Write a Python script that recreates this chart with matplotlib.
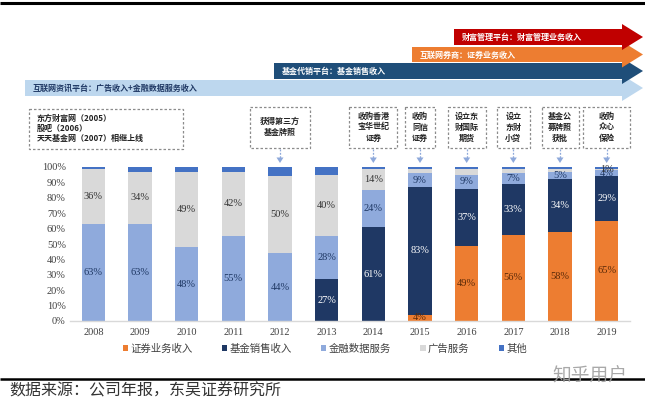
import matplotlib
matplotlib.use("Agg")
import matplotlib.pyplot as plt
import numpy as np
from matplotlib.patches import Polygon, Rectangle, Patch

# ---------------- data ----------------
years = ["2008", "2009", "2010", "2011", "2012", "2013", "2014", "2015", "2016", "2017", "2018", "2019"]
securities = [0, 0, 0, 0, 0, 0, 0, 4, 49, 56, 58, 65]      # 证券业务收入
fund_sales = [0, 0, 0, 0, 0, 27, 61, 83, 37, 33, 34, 29]   # 基金销售收入
fin_data = [63, 63, 48, 55, 44, 28, 24, 9, 9, 7, 5, 4]     # 金融数据服务
advert = [36, 34, 49, 42, 50, 40, 14, 3, 4, 3, 2, 1]       # 广告服务
others = [1, 3, 3, 3, 6, 5, 1, 1, 1, 1, 1, 1]              # 其他
series_names = ["证券业务收入", "基金销售收入", "金融数据服务", "广告服务", "其他"]
ytick_vals = list(range(0, 101, 10))

# labels shown in the reference
show_sec = [v >= 4 for v in securities]
show_fund = [v >= 4 for v in fund_sales]
show_fin = [True] * len(years)
show_ad = [v >= 10 for v in advert]
show_ad[-1] = True

events = [
    ("2012", ["获得第三方", "基金牌照"]),
    ("2014", ["收购香港", "宝华世纪", "证券"]),
    ("2015", ["收购", "同信", "证券"]),
    ("2016", ["设立东", "财国际", "期货"]),
    ("2017", ["设立", "东财", "小贷"]),
    ("2018", ["基金公", "募牌照", "获批"]),
    ("2019", ["收购", "众心", "保险"]),
]
event_box_w = [60, 48, 30, 38, 33, 37, 47]
early_lines = ["东方财富网（2005）", "股吧（2006）", "天天基金网（2007）相继上线"]

stages = [
    ("互联网资讯平台：广告收入+金融数据服务收入", 25, 80, 96, "#BDD7EE", "#1F3864"),
    ("基金代销平台：基金销售收入", 274, 63, 79, "#1F4E79", "white"),
    ("互联网券商：证券业务收入", 412, 47, 62, "#ED7D31", "white"),
    ("财富管理平台：财富管理业务收入", 454, 29, 45, "#C00000", "white"),
]

# ---------------- style ----------------
W, H = 645, 400
CJK = ["Noto Sans CJK SC", "DejaVu Sans"]
SERIF = ["Liberation Serif", "DejaVu Serif"]
plt.rcParams["font.family"] = CJK

c_sec, c_fund, c_fin, c_ad, c_oth = "#ED7D31", "#1F3864", "#8FAADC", "#D9D9D9", "#4472C4"

fig = plt.figure(figsize=(W / 100, H / 100), dpi=100)
fig.patch.set_facecolor("white")

# main axes
ax = fig.add_axes([70 / W, 1 - 321 / H, 560 / W, 154 / H])
x = np.arange(len(years))
bw = 0.5
b0 = np.zeros(len(years))
stack = [securities, fund_sales, fin_data, advert, others]
colors = [c_sec, c_fund, c_fin, c_ad, c_oth]
label_colors = ["#5B2A08", "white", "#1F3864", "#333333", None]
shows = [show_sec, show_fund, show_fin, show_ad, [False] * len(years)]
bottom = b0.copy()
for vals, col, lc, sh, name in zip(stack, colors, label_colors, shows, series_names):
    vals = np.array(vals, dtype=float)
    ax.bar(x, vals, bw, bottom=bottom, color=col, edgecolor="none", label=name, zorder=2)
    for i, v in enumerate(vals):
        if sh[i] and v > 0:
            ax.text(x[i], bottom[i] + v / 2, f"{int(v)}%", ha="center", va="center",
                    fontsize=7.5, color=lc, family=SERIF, zorder=3)
    bottom += vals

ax.set_xlim(-0.5, len(years) - 0.5)
ax.set_ylim(0, 100)
ax.set_xticks(x)
ax.set_xticklabels(years, family=SERIF, fontsize=7.5, color="#404040")
ax.set_yticks(ytick_vals)
ax.set_yticklabels([f"{v}%" for v in ytick_vals], family=SERIF, fontsize=7.5, color="#404040")
ax.tick_params(axis="both", length=0)
ax.tick_params(axis="x", pad=5)
ax.tick_params(axis="y", pad=3)
for s in ["top", "right", "left"]:
    ax.spines[s].set_visible(False)
ax.spines["bottom"].set_color("#D9D9D9")
ax.spines["bottom"].set_linewidth(1.0)

handles = [Patch(facecolor=c, edgecolor="none") for c in colors]
leg = ax.legend(handles, series_names, loc="center", ncol=5, frameon=False,
                bbox_to_anchor=(325 / W, 1 - 349 / H), bbox_transform=fig.transFigure,
                fontsize=7.5, handlelength=0.5, handleheight=0.5, handletextpad=0.25,
                columnspacing=2.8, borderpad=0)
for t in leg.get_texts():
    t.set_color("#404040")

# overlay axes in pixel coordinates (decorations)
ov = fig.add_axes([0, 0, 1, 1], zorder=5)
ov.set_xlim(0, W)
ov.set_ylim(H, 0)
ov.axis("off")
ov.patch.set_alpha(0)

# top and bottom rules
ov.plot([0, W], [3, 3], color="black", lw=2.2, solid_capstyle="butt")
ov.plot([0, W], [378.5, 378.5], color="black", lw=1.8, solid_capstyle="butt")

# stage arrows
tip_x, head_x, head_half = 643, 622, 13
for text, xs, yt, yb, col, tc in stages:
    yc = (yt + yb) / 2
    pts = [(xs, yt), (head_x, yt), (head_x, yc - head_half), (tip_x, yc),
           (head_x, yc + head_half), (head_x, yb), (xs, yb)]
    ov.add_patch(Polygon(pts, closed=True, facecolor=col, edgecolor="none"))
    ov.text(xs + 8, yc + 0.5, text, ha="left", va="center", fontsize=5.8,
            fontweight="bold", color=tc)

# early box
box_kw = dict(fill=True, facecolor="white", edgecolor="#8C8C8C", lw=0.9, linestyle=(0, (2, 1.6)))
ov.add_patch(Rectangle((29, 109), 154, 40, **box_kw))
for k, line in enumerate(early_lines):
    ov.text(37, 118 + 10 * k, line, ha="left", va="center", fontsize=5.8,
            fontweight="bold", color="#222222")

# event boxes with arrows to bars
fig.canvas.draw()
for (yr, lines), bwid in zip(events, event_box_w):
    i = years.index(yr)
    xc_disp = ax.transData.transform((i, 0))[0]
    xc = xc_disp  # figure pixels (dpi 100 -> 1 px per unit)
    ov.add_patch(Rectangle((xc - bwid / 2, 107), bwid, 41, **box_kw))
    n = len(lines)
    y0 = 127 - (n - 1) * 11 / 2
    for k, line in enumerate(lines):
        ov.text(xc, y0 + 11 * k, line, ha="center", va="center", fontsize=5.8,
                fontweight="bold", color="#222222")
    ov.plot([xc, xc], [149, 158], color="#8EA9DB", lw=0.9, linestyle=(0, (1.5, 1.2)))
    ov.add_patch(Polygon([(xc - 3.5, 157.5), (xc + 3.5, 157.5), (xc, 163)], closed=True,
                         facecolor="#8EA9DB", edgecolor="none"))

# source + watermark
ov.text(9, 391, "数据来源：公司年报，东吴证券研究所", ha="left", va="center",
        fontsize=11.5, color="#333333")
ov.text(590, 375, "知乎用户", ha="center", va="center", fontsize=13.5,
        color="#A0A0A0", alpha=0.9)

fig.savefig("out.png", dpi=100, facecolor="white")
